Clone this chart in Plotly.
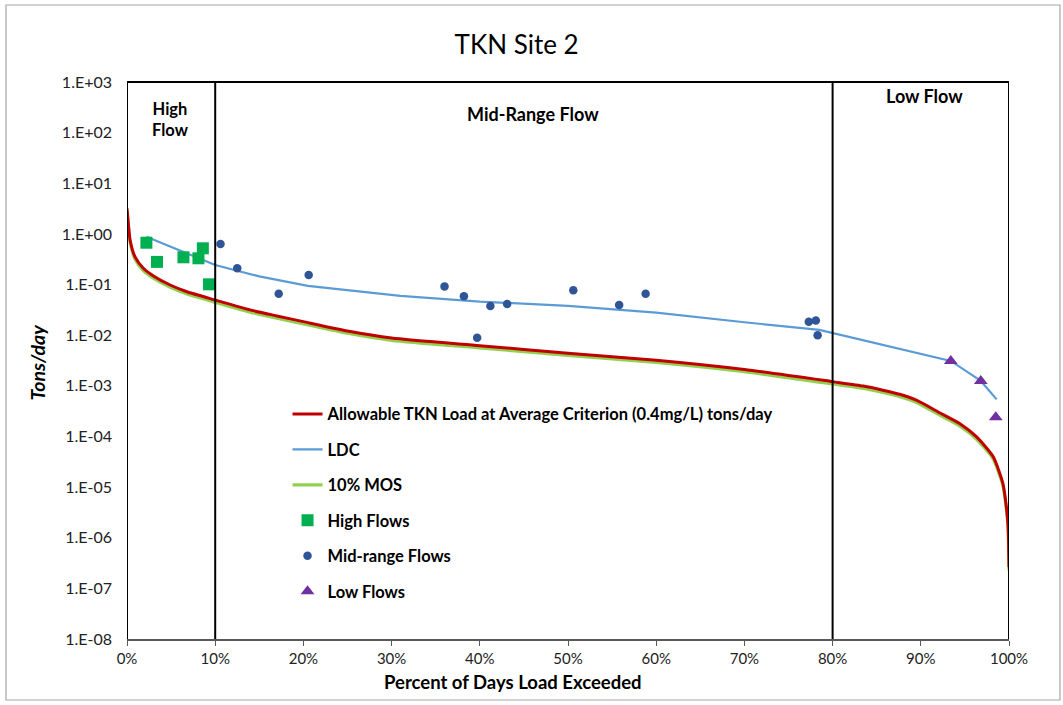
import plotly.graph_objects as go

# Flow-duration percentiles (percent of days load exceeded)
allow_pct = [0, 0.15, 0.35, 0.9, 1.85, 3, 4.9, 6.8, 10, 14.3, 17, 20, 25, 30, 40, 50, 60, 70,
             80, 83.5, 85.7, 87.6, 89.5, 92.2, 94.4, 96.3, 98.2, 99.3, 99.7, 99.9, 100]
# Allowable TKN load at 0.4 mg/L (tons/day)
allow_val = [3.2, 1.62, 0.76, 0.355, 0.21, 0.148, 0.098, 0.072, 0.0495, 0.0305, 0.024, 0.0185,
             0.0121, 0.0088, 0.0062, 0.0044, 0.0032, 0.0021, 0.00121, 0.00099, 0.00082, 0.00068,
             0.00052, 0.00029, 0.00018, 0.000099, 0.00004, 0.000012, 0.0000041, 0.00000166,
             0.00000026]
# Allowable load less the 10% margin of safety (tons/day)
mos_val = [2.88, 1.46, 0.684, 0.32, 0.189, 0.133, 0.088, 0.065, 0.0446, 0.0275, 0.0216, 0.0167,
           0.0109, 0.0079, 0.0056, 0.0040, 0.0029, 0.0019, 0.00109, 0.00089, 0.00074, 0.00061,
           0.00047, 0.00026, 0.000162, 0.000089, 0.000036, 0.0000108, 0.0000037, 0.0000015,
           0.000000225]

# Load duration curve
ldc_pct = [2.2, 5, 10, 15, 20.5, 31, 40, 50, 60, 70, 78.5, 93.4, 96.8, 98.6]
ldc_val = [0.88, 0.56, 0.243, 0.145, 0.094, 0.060, 0.046, 0.038, 0.028, 0.018, 0.0127,
           0.0031, 0.00125, 0.00054]

# Observed loads by flow regime
high_pct = [2.2, 3.4, 6.4, 8.1, 8.6, 9.3]
high_val = [0.67, 0.28, 0.345, 0.33, 0.52, 0.101]
mid_pct = [10.6, 12.5, 17.2, 20.6, 36.0, 38.2, 39.7, 41.2, 43.1, 50.6, 55.8, 58.8, 77.3, 78.1, 78.3]
mid_val = [0.63, 0.21, 0.066, 0.155, 0.092, 0.059, 0.0089, 0.0377, 0.0413, 0.077, 0.0394, 0.066,
           0.0185, 0.0194, 0.00995]
low_pct = [93.4, 96.8, 98.5]
low_val = [0.0031, 0.00125, 0.00024]

# Axis ticks
x_ticks = [0, 10, 20, 30, 40, 50, 60, 70, 80, 90, 100]
x_tick_text = ["0%", "10%", "20%", "30%", "40%", "50%", "60%", "70%", "80%", "90%", "100%"]
y_ticks = [1e3, 1e2, 1e1, 1e0, 1e-1, 1e-2, 1e-3, 1e-4, 1e-5, 1e-6, 1e-7, 1e-8]
y_tick_text = ["1.E+03", "1.E+02", "1.E+01", "1.E+00", "1.E-01", "1.E-02", "1.E-03",
               "1.E-04", "1.E-05", "1.E-06", "1.E-07", "1.E-08"]

# Flow regime boundaries and labels
regime_bounds = [10, 80]
regime_labels = ["High<br>Flow", "Mid-Range Flow", "Low Flow"]
regime_label_x = [4.9, 46, 90.4]
regime_label_y = [0.932, 0.9425, 0.975]
regime_label_size = [16.5, 18, 18]

FONT = "Lato"

fig = go.Figure()

fig.add_trace(go.Scatter(
    x=allow_pct, y=mos_val, mode="lines", name="10% MOS", legendgroup="mos", legendrank=3,
    line=dict(color="#92D050", width=3.2, shape="spline", smoothing=0.6)))
fig.add_trace(go.Scatter(
    x=allow_pct, y=allow_val, mode="lines",
    name="Allowable TKN Load at Average Criterion (0.4mg/L) tons/day",
    legendgroup="allow", legendrank=1,
    line=dict(color="#C00000", width=3, shape="spline", smoothing=0.6)))
fig.add_trace(go.Scatter(
    x=ldc_pct, y=ldc_val, mode="lines", name="LDC", legendgroup="ldc", legendrank=2,
    line=dict(color="#5B9BD5", width=2.2)))
fig.add_trace(go.Scatter(
    x=high_pct, y=high_val, mode="markers", name="High Flows", legendgroup="high", legendrank=4,
    marker=dict(symbol="square", size=12, color="#00B050")))
fig.add_trace(go.Scatter(
    x=mid_pct, y=mid_val, mode="markers", name="Mid-range Flows", legendgroup="mid", legendrank=5,
    marker=dict(symbol="circle", size=8.5, color="#2F5597")))
fig.add_trace(go.Scatter(
    x=low_pct, y=low_val, mode="markers", name="Low Flows", legendgroup="low", legendrank=6,
    marker=dict(symbol="triangle-up", size=12, color="#7030A0")))

# Plot frame (left, top, right) and regime dividers
frame = dict(type="line", xref="x", yref="paper", line=dict(color="black", width=2))
fig.add_shape(**frame, x0=0, x1=0, y0=0, y1=1)
fig.add_shape(**frame, x0=100, x1=100, y0=0, y1=1)
fig.add_shape(**frame, x0=0, x1=100, y0=1, y1=1)
for b in regime_bounds:
    fig.add_shape(**frame, x0=b, x1=b, y0=0, y1=1)

# Outer chart border
fig.add_shape(type="rect", xref="paper", yref="paper", x0=-0.1372, x1=1.0578, y0=-0.1095,
              y1=1.1382, line=dict(color="#A6A6A6", width=1.2), layer="below")

for txt, xv, yv, sz in zip(regime_labels, regime_label_x, regime_label_y, regime_label_size):
    fig.add_annotation(x=xv, y=yv, xref="x", yref="paper", text=f"<b>{txt}</b>",
                       showarrow=False, font=dict(family=FONT, size=sz, color="black"),
                       xanchor="center", yanchor="middle")

fig.add_annotation(x=0.438, y=-0.077, xref="paper", yref="paper",
                   text="<b>Percent of Days Load Exceeded</b>", showarrow=False,
                   font=dict(family=FONT, size=18.5, color="black"), xanchor="center",
                   yanchor="middle")
fig.add_annotation(x=-0.101, y=0.498, xref="paper", yref="paper",
                   text="<b><i>Tons/day</i></b>", showarrow=False, textangle=-90,
                   font=dict(family=FONT, size=19.5, color="black"), xanchor="center",
                   yanchor="middle")

fig.update_layout(
    width=1063, height=705,
    margin=dict(l=127, r=54, t=82, b=66),
    paper_bgcolor="white", plot_bgcolor="white",
    font=dict(family=FONT, color="black"),
    title=dict(text="TKN Site 2", x=0.486, y=0.936, xanchor="center", yanchor="middle",
               font=dict(family=FONT, size=26, color="black")),
    legend=dict(x=0.182, y=0.435, xanchor="left", yanchor="top", bgcolor="rgba(0,0,0,0)",
                font=dict(family=FONT, size=16.5, color="black"), tracegroupgap=11,
                traceorder="grouped"),
    showlegend=True,
)
fig.for_each_trace(lambda t: t.update(name=f"<b>{t.name}</b>"))

fig.update_xaxes(range=[0, 100], tickvals=x_ticks, ticktext=x_tick_text, showgrid=False,
                 zeroline=False, showline=True, linecolor="#595959", linewidth=1.5,
                 ticks="outside", ticklen=5, tickcolor="#595959",
                 tickfont=dict(family=FONT, size=15, color="#222222"))
fig.update_yaxes(type="log", range=[-8, 3], tickvals=y_ticks, ticktext=y_tick_text,
                 showgrid=False, zeroline=False, showline=False, ticks="",
                 ticklabelstandoff=14, tickfont=dict(family=FONT, size=16, color="#222222"))

fig.write_html("out.html")
